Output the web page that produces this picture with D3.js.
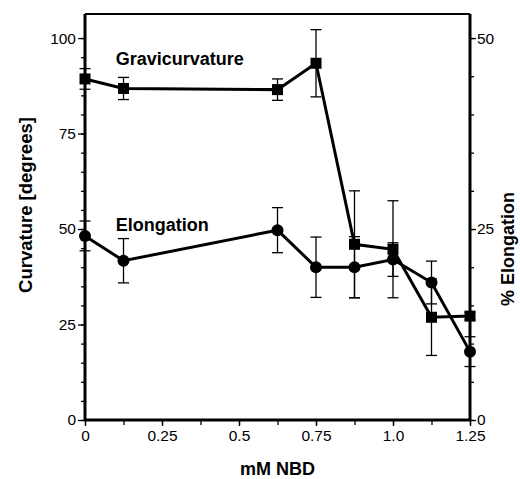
<!DOCTYPE html>
<html>
<head>
<meta charset="utf-8">
<script src="https://cdn.jsdelivr.net/npm/d3@7"></script>
<style>
  body { margin: 0; background: #fff; }
  svg { display: block; }
  text { font-family: "Liberation Sans", Arial, sans-serif; fill: #000; }
</style>
</head>
<body>
<div id="chart"></div>
<script>
// concentrations (mM NBD)
const doses = [0, 0.125, 0.625, 0.75, 0.875, 1.0, 1.125, 1.25];
// gravicurvature, degrees (left axis)
const curvature = [89.3, 86.8, 86.5, 93.4, 46.0, 44.7, 26.9, 27.2];
const curvatureErr = [2.7, 2.9, 2.8, 8.8, 14.0, 12.7, 10.0, 1.0];
// elongation, % (right axis)
const elongation = [24.1, 20.85, 24.85, 20.0, 20.0, 21.0, 18.0, 8.95];
const elongationErr = [1.95, 2.9, 2.95, 3.95, 4.0, 2.2, 2.8, 1.95];

const xTicks = [0, 0.25, 0.5, 0.75, 1.0, 1.25];
const xTickLabels = ["0", "0.25", "0.5", "0.75", "1.0", "1.25"];
const leftTicks = [0, 25, 50, 75, 100];
const rightTicks = [0, 25, 50];

const W = 520, H = 479;
const margin = {top: 14, right: 50, bottom: 59, left: 85};
const width = W - margin.left - margin.right;
const height = H - margin.top - margin.bottom;

const svg = d3.select("#chart").append("svg")
    .attr("width", W)
    .attr("height", H);
const g = svg.append("g")
    .attr("transform", "translate(" + margin.left + "," + margin.top + ")");

const x = d3.scaleLinear().domain([0, 1.25]).range([0, width]);
const yL = d3.scaleLinear().domain([0, 106.3]).range([height, 0]);
const yR = d3.scaleLinear().domain([0, 53.15]).range([height, 0]);

// minor ticks first
g.append("g")
    .attr("transform", "translate(0," + height + ")")
    .call(d3.axisBottom(x).tickValues(d3.range(0, 1.26, 0.125)).tickSize(5).tickFormat(""))
    .call(a => a.select(".domain").remove());
g.append("g")
    .call(d3.axisLeft(yL).tickValues(d3.range(0, 101, 5)).tickSize(4).tickFormat(""))
    .call(a => a.select(".domain").remove());
g.append("g")
    .attr("transform", "translate(" + width + ",0)")
    .call(d3.axisRight(yR).tickValues(d3.range(0, 51, 5)).tickSize(4).tickFormat(""))
    .call(a => a.select(".domain").remove());

// major ticks with labels
const xAxis = g.append("g")
    .attr("transform", "translate(0," + height + ")")
    .call(d3.axisBottom(x).tickValues(xTicks).tickSize(6).tickPadding(4)
        .tickFormat((d, i) => xTickLabels[i]));
const lAxis = g.append("g")
    .call(d3.axisLeft(yL).tickValues(leftTicks).tickSize(7).tickPadding(2));
const rAxis = g.append("g")
    .attr("transform", "translate(" + width + ",0)")
    .call(d3.axisRight(yR).tickValues(rightTicks).tickSize(6).tickPadding(1));
[xAxis, lAxis, rAxis].forEach(a => {
    a.select(".domain").remove();
    a.selectAll("text").style("font-size", "15.5px").style("font-family", "'Liberation Sans', Arial, sans-serif");
});
g.selectAll(".tick line").attr("stroke", "#000").attr("stroke-width", 1.3);

// frame
g.append("line").attr("x1", 0).attr("x2", width).attr("y1", 0).attr("y2", 0)
    .attr("stroke", "#000").attr("stroke-width", 2);
g.append("line").attr("x1", 0).attr("x2", width).attr("y1", height).attr("y2", height)
    .attr("stroke", "#000").attr("stroke-width", 3);
g.append("line").attr("x1", 0).attr("x2", 0).attr("y1", 0).attr("y2", height)
    .attr("stroke", "#000").attr("stroke-width", 3);
g.append("line").attr("x1", width).attr("x2", width).attr("y1", 0).attr("y2", height)
    .attr("stroke", "#000").attr("stroke-width", 3);

const curv = doses.map((d, i) => ({x: d, y: curvature[i], e: curvatureErr[i]}));
const elong = doses.map((d, i) => ({x: d, y: elongation[i], e: elongationErr[i]}));

function drawSeries(data, yScale) {
    const line = d3.line().x(d => x(d.x)).y(d => yScale(d.y));
    g.append("path").datum(data)
        .attr("d", line)
        .attr("fill", "none")
        .attr("stroke", "#000")
        .attr("stroke-width", 3);
    const eb = g.append("g").selectAll("g").data(data).enter().append("g");
    eb.append("line")
        .attr("x1", d => x(d.x)).attr("x2", d => x(d.x))
        .attr("y1", d => yScale(d.y + d.e)).attr("y2", d => yScale(d.y - d.e));
    eb.append("line")
        .attr("x1", d => x(d.x) - 5.5).attr("x2", d => x(d.x) + 5.5)
        .attr("y1", d => yScale(d.y + d.e)).attr("y2", d => yScale(d.y + d.e));
    eb.append("line")
        .attr("x1", d => x(d.x) - 5.5).attr("x2", d => x(d.x) + 5.5)
        .attr("y1", d => yScale(d.y - d.e)).attr("y2", d => yScale(d.y - d.e));
    eb.selectAll("line").attr("stroke", "#000").attr("stroke-width", 1.3);
}

drawSeries(curv, yL);
drawSeries(elong, yR);

// markers
g.selectAll(".sq").data(curv).enter().append("rect")
    .attr("class", "sq")
    .attr("x", d => x(d.x) - 5.5)
    .attr("y", d => yL(d.y) - 5.5)
    .attr("width", 11).attr("height", 11)
    .attr("fill", "#000");
g.selectAll(".dot").data(elong).enter().append("circle")
    .attr("class", "dot")
    .attr("cx", d => x(d.x))
    .attr("cy", d => yR(d.y))
    .attr("r", 6)
    .attr("fill", "#000");

// series labels
g.append("text").attr("x", x(0.1)).attr("y", yL(93))
    .style("font-size", "18px").style("font-weight", "bold")
    .text("Gravicurvature");
g.append("text").attr("x", x(0.1)).attr("y", yL(49.6))
    .style("font-size", "18px").style("font-weight", "bold")
    .text("Elongation");

// axis titles
svg.append("text")
    .attr("x", margin.left + width / 2).attr("y", 475)
    .attr("text-anchor", "middle")
    .style("font-size", "18px").style("font-weight", "bold")
    .text("mM NBD");
svg.append("text")
    .attr("transform", "translate(32,205) rotate(-90)")
    .attr("text-anchor", "middle")
    .style("font-size", "18.5px").style("font-weight", "bold")
    .text("Curvature [degrees]");
svg.append("text")
    .attr("transform", "translate(514,249) rotate(-90)")
    .attr("text-anchor", "middle")
    .style("font-size", "18px").style("font-weight", "bold")
    .text("% Elongation");
</script>
</body>
</html>
